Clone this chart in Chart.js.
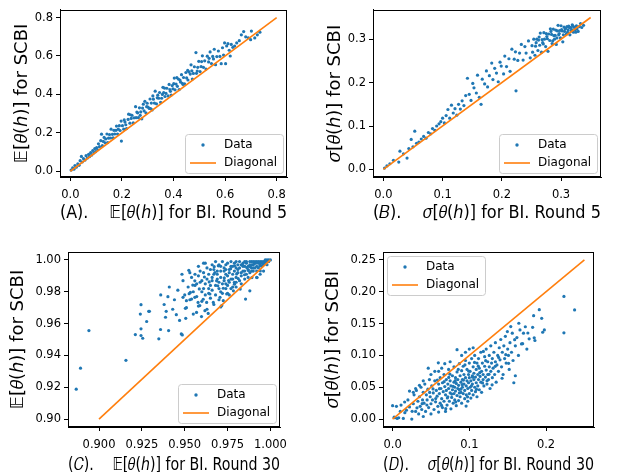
<!DOCTYPE html>
<html lang="en">
<head>
<meta charset="UTF-8">
<title>SCBI vs BI</title>
<script src="https://cdn.jsdelivr.net/npm/chart.js"></script>
<style>
  html, body { margin: 0; padding: 0; background: #fff; overflow: hidden; }
  canvas { position: absolute; left: 0; top: 0; }
</style>
</head>
<body>
<canvas id="chartA" width="621" height="480"></canvas>
<canvas id="chartB" width="621" height="480"></canvas>
<canvas id="chartC" width="621" height="480"></canvas>
<canvas id="chartD" width="621" height="480"></canvas>
<script>
// (A) mean, round 5: [BI, SCBI]
const meanR5 = [
  [0.003,0.006],[0.009,0.017],[0.014,0.011],[0.018,0.030],[0.023,0.021],[0.029,0.038],[0.034,0.031],[0.038,0.055],
  [0.043,0.077],[0.046,0.048],[0.051,0.066],[0.057,0.058],[0.061,0.081],[0.066,0.069],[0.071,0.088],[0.074,0.076],
  [0.079,0.097],[0.083,0.084],[0.087,0.108],[0.091,0.095],[0.095,0.118],[0.098,0.102],
  [0.102,0.123],[0.106,0.112],[0.109,0.143],[0.113,0.128],[0.118,0.159],[0.121,0.193],[0.124,0.133],[0.128,0.155],
  [0.131,0.176],[0.135,0.148],[0.137,0.168],[0.142,0.194],[0.145,0.149],[0.148,0.172],[0.152,0.191],[0.156,0.173],
  [0.158,0.219],[0.163,0.192],[0.166,0.174],[0.169,0.213],[0.172,0.194],[0.177,0.213],[0.179,0.235],[0.183,0.194],
  [0.186,0.219],[0.190,0.237],[0.193,0.212],[0.197,0.261],[0.198,0.157],
  [0.202,0.237],[0.207,0.219],[0.209,0.267],[0.215,0.242],[0.218,0.222],[0.224,0.270],[0.226,0.297],[0.231,0.250],
  [0.236,0.275],[0.239,0.291],[0.244,0.252],[0.247,0.278],[0.253,0.336],[0.255,0.279],[0.261,0.304],[0.264,0.279],
  [0.268,0.330],[0.273,0.309],[0.277,0.273],[0.280,0.329],[0.286,0.314],[0.289,0.364],[0.293,0.304],[0.298,0.354],
  [0.301,0.334],[0.306,0.327],[0.309,0.376],[0.314,0.355],[0.317,0.319],[0.322,0.375],[0.326,0.355],[0.329,0.417],
  [0.334,0.351],[0.337,0.382],[0.343,0.380],[0.346,0.410],[0.350,0.359],[0.354,0.380],[0.359,0.437],[0.362,0.410],
  [0.367,0.389],[0.371,0.405],[0.374,0.432],[0.379,0.392],[0.383,0.452],[0.386,0.425],[0.391,0.397],[0.395,0.446],
  [0.398,0.429],[0.403,0.485],[0.406,0.424],[0.410,0.454],[0.415,0.442],[0.419,0.480],[0.422,0.425],[0.427,0.465],
  [0.431,0.503],[0.434,0.458],[0.439,0.488],[0.443,0.455],[0.448,0.514],[0.451,0.486],[0.456,0.475],[0.460,0.517],
  [0.465,0.506],[0.468,0.554],[0.473,0.480],[0.477,0.509],[0.481,0.544],[0.487,0.618],[0.489,0.510],[0.494,0.541],
  [0.498,0.572],[0.503,0.519],[0.507,0.545],[0.512,0.601],[0.516,0.541],[0.521,0.575],[0.526,0.532],[0.531,0.599],
  [0.536,0.569],[0.542,0.621],[0.547,0.561],[0.552,0.598],[0.558,0.635],[0.563,0.555],[0.568,0.597],[0.574,0.626],
  [0.580,0.598],[0.585,0.560],[0.590,0.643],[0.594,0.605],
  [0.212,0.256],[0.233,0.294],[0.258,0.308],[0.271,0.291],[0.283,0.349],[0.296,0.336],[0.311,0.326],[0.320,0.392],
  [0.339,0.396],[0.357,0.400],[0.365,0.433],[0.388,0.416],[0.401,0.456],[0.413,0.487],[0.425,0.475],[0.437,0.452],
  [0.455,0.525],[0.471,0.523],[0.492,0.522],[0.509,0.571],[0.538,0.588],[0.555,0.585],
  [0.598,0.668],[0.602,0.560],[0.606,0.652],[0.611,0.664],[0.616,0.630],[0.620,0.600],[0.624,0.660],[0.630,0.645],
  [0.637,0.652],[0.645,0.668],[0.655,0.680],[0.663,0.710],[0.672,0.727],[0.680,0.700],[0.690,0.695],[0.699,0.685],
  [0.702,0.730],[0.715,0.694],[0.725,0.710],[0.735,0.724]
];

// (B) std, round 5
const sdR5 = [
  [0.002,0.003],[0.006,0.008],[0.011,0.013],[0.017,0.021],[0.026,0.017],[0.028,0.042],[0.034,0.036],[0.040,0.026],
  [0.043,0.048],[0.047,0.069],[0.050,0.052],[0.053,0.088],[0.056,0.060],[0.060,0.063],[0.064,0.070],[0.068,0.076],
  [0.072,0.072],[0.076,0.085],[0.080,0.082],[0.083,0.094],[0.087,0.090],[0.090,0.100],[0.094,0.105],[0.097,0.110],
  [0.100,0.118],[0.103,0.107],[0.106,0.124],[0.109,0.138],[0.112,0.118],[0.115,0.148],[0.118,0.130],[0.121,0.140],
  [0.124,0.125],[0.127,0.150],[0.130,0.139],[0.133,0.158],[0.136,0.147],[0.139,0.170],
  [0.142,0.210],[0.145,0.173],[0.148,0.159],[0.151,0.198],[0.153,0.188],[0.157,0.176],[0.159,0.217],[0.162,0.166],
  [0.165,0.150],[0.167,0.208],[0.171,0.197],[0.174,0.227],[0.176,0.190],[0.179,0.216],[0.183,0.245],[0.185,0.207],
  [0.188,0.233],[0.191,0.222],[0.194,0.202],[0.197,0.247],[0.199,0.238],[0.203,0.220],[0.205,0.261],[0.208,0.237],
  [0.212,0.255],[0.214,0.226],[0.217,0.277],[0.221,0.254],[0.223,0.271],[0.224,0.181],[0.227,0.251],[0.230,0.268],
  [0.233,0.288],[0.236,0.252],[0.239,0.283],[0.241,0.268],[0.245,0.296],[0.248,0.257],
  [0.251,0.285],[0.252,0.270],[0.254,0.300],[0.256,0.263],[0.257,0.284],[0.259,0.300],[0.261,0.274],[0.262,0.298],
  [0.264,0.286],[0.265,0.314],[0.267,0.270],[0.268,0.299],[0.270,0.289],[0.271,0.315],[0.272,0.300],[0.274,0.283],
  [0.275,0.313],[0.277,0.301],[0.278,0.272],[0.279,0.312],[0.281,0.297],[0.282,0.324],[0.284,0.311],[0.285,0.290],
  [0.287,0.323],[0.288,0.308],[0.289,0.300],[0.291,0.321],[0.292,0.288],[0.294,0.319],[0.295,0.332],[0.296,0.310],
  [0.298,0.320],[0.299,0.303],[0.300,0.331],[0.302,0.319],[0.303,0.294],[0.305,0.328],[0.306,0.318],[0.307,0.324],
  [0.309,0.312],[0.310,0.329],[0.312,0.321],[0.313,0.330],[0.315,0.310],[0.316,0.327],[0.318,0.322],[0.319,0.333],
  [0.321,0.316],[0.322,0.328],[0.324,0.321],[0.326,0.331],[0.327,0.324],[0.329,0.318],[0.331,0.329],[0.333,0.336],
  [0.335,0.327],[0.338,0.332],
  [0.297,0.313],[0.301,0.322],[0.304,0.310],[0.308,0.325],[0.311,0.316],[0.314,0.327],[0.317,0.319],[0.320,0.330],
  [0.323,0.327],[0.325,0.316],[0.283,0.318],[0.276,0.306],[0.269,0.292],[0.263,0.305],[0.258,0.292],[0.286,0.296],
  [0.290,0.309],[0.293,0.303]
];

// (C) mean, round 30
const meanR30 = [
  [0.8867,0.9188],[0.8892,0.932],[0.8941,0.9556],[0.9157,0.9369],[0.9212,0.9531],[0.9245,0.9719],[0.9241,0.966],
  [0.929,0.9677],[0.9278,0.9613],[0.9245,0.9567],[0.9245,0.9525],[0.9255,0.9508],[0.9349,0.9504],[0.9359,0.9563],
  [0.9388,0.964],[0.9392,0.9677],[0.9402,0.9769],[0.9406,0.9556],[0.9451,0.9656],[0.948,0.9535],[0.9486,0.9529],
  [0.9484,0.991],[0.9524,0.9935],[0.9504,0.9696],[0.9506,0.9633],[0.9294,0.9677],
  [0.949,0.9765],[0.951,0.9744],[0.954,0.9754],[0.9533,0.9796],[0.9559,0.9869],[0.9559,0.9765],[0.9578,0.9733],
  [0.9569,0.967],[0.9588,0.9713],[0.9598,0.9644],[0.9618,0.9681],[0.9628,0.9733],[0.9637,0.9664],[0.9647,0.9786],
  [0.9667,0.9733],[0.9676,0.9921],[0.9686,0.9869],[0.9696,0.9963],[0.9706,0.9765],[0.9716,0.9713],[0.9725,0.9744],
  [0.9745,0.9786],[0.971,0.9705],[0.9784,0.9806],[0.979,0.9848],[0.9824,0.9817],[0.9855,0.9754],[0.988,0.9806],
  [0.9892,0.9889],[0.9922,0.9889],[0.9941,0.9931],
  [0.936,0.978],[0.938,0.972],[0.941,0.983],[0.943,0.969],[0.944,0.975],[0.946,0.981],[0.947,0.962],[0.949,0.987],
  [0.950,0.978],[0.951,0.970],[0.952,0.983],[0.953,0.975],[0.954,0.989],[0.955,0.980],[0.955,0.966],
  [0.956,0.984],[0.957,0.977],[0.958,0.990],[0.958,0.971],[0.959,0.986],[0.960,0.980],[0.960,0.974],[0.961,0.992],
  [0.962,0.985],[0.962,0.978],[0.963,0.988],[0.963,0.969],[0.964,0.982],[0.965,0.994],[0.965,0.976],[0.966,0.987],
  [0.966,0.981],[0.967,0.991],[0.967,0.972],[0.968,0.984],[0.968,0.978],[0.969,0.993],[0.969,0.988],[0.970,0.982],
  [0.970,0.975],[0.971,0.996],[0.971,0.989],[0.972,0.985],[0.972,0.979],[0.973,0.993],[0.973,0.987],[0.974,0.982],
  [0.974,0.997],[0.975,0.990],[0.975,0.984],[0.976,0.994],[0.976,0.978],[0.977,0.988],[0.977,0.982],[0.978,0.996],
  [0.978,0.991],[0.979,0.986],[0.979,0.993],[0.980,0.989],[0.980,0.983],[0.981,0.997],[0.981,0.992],[0.982,0.987],
  [0.982,0.995],[0.983,0.990],[0.983,0.985],[0.984,0.998],[0.984,0.993],[0.985,0.988],[0.985,0.996],
  [0.986,0.991],[0.986,0.998],[0.987,0.994],[0.987,0.989],[0.988,0.997],[0.988,0.992],[0.989,0.995],[0.989,0.999],
  [0.990,0.993],[0.990,0.997],[0.991,0.995],[0.991,0.999],[0.992,0.996],[0.992,0.993],[0.993,0.998],[0.993,0.995],
  [0.994,0.999],[0.994,0.997],[0.995,0.996],[0.995,0.999],[0.996,0.998],[0.996,0.997],[0.997,0.999],[0.997,0.998],
  [0.998,0.999],[0.998,1.000],[0.999,0.999],[0.999,1.000],[1.000,1.000],
  [0.958,0.996],[0.961,0.998],[0.963,0.995],[0.966,0.997],[0.968,0.999],[0.970,0.997],[0.972,0.999],[0.975,0.998],
  [0.977,0.999],[0.979,0.998],[0.982,0.999],[0.984,0.996],[0.986,0.999],[0.973,0.995],[0.976,0.992],[0.978,0.988],
  [0.981,0.994],[0.983,0.992],[0.985,0.993],[0.987,0.996],[0.989,0.997],[0.991,0.998],[0.967,0.994],[0.969,0.991],
  [0.971,0.993],[0.974,0.991],[0.964,0.991],[0.962,0.998],[0.959,0.993],[0.956,0.991],[0.953,0.992],[0.957,0.985],
  [0.961,0.982],[0.965,0.984],[0.970,0.986],[0.974,0.985],[0.978,0.983],[0.980,0.986],[0.976,0.986],[0.966,0.989],
  [0.971,0.980],[0.975,0.979],[0.964,0.979],[0.960,0.987],[0.988,0.999],[0.990,0.999],[0.992,0.999],[0.994,0.998],
  [0.996,0.999],[0.997,1.000],[0.995,0.998],[0.993,0.999],[0.985,0.999],[0.983,0.997],[0.980,0.995],[0.977,0.996],
  [0.974,0.994],[0.980,0.999],[0.990,0.995],[0.989,0.993],[0.992,0.989],[0.996,0.993],[0.998,0.997],[0.994,0.991],
  [0.9615,0.9893],[0.9672,0.9958],[0.9731,0.9887],[0.9768,0.9945],[0.9803,0.9912],[0.9837,0.9968],[0.9871,0.9934],
  [0.9904,0.9976],[0.9938,0.9962],[0.9957,0.9985],[0.9693,0.9838],[0.9756,0.9871],[0.9812,0.9883],[0.9849,0.9907],
  [0.9883,0.9958],[0.9917,0.9981],[0.9643,0.9862],[0.9585,0.9818],[0.9547,0.9842],[0.9526,0.9788],[0.9608,0.9753],
  [0.9725,0.9822],[0.9791,0.9963],[0.9862,0.9952],[0.9976,0.9994]
];

// (D) std, round 30
const sdR30 = [
  [0.003,0.002],[0.006,0.001],[0.014,0.001],[0.016,0.010],[0.018,0.014],[0.025,0.000],[0.022,0.019],[0.027,0.024],
  [0.011,0.022],[0.000,0.021],[0.002,0.003],[0.005,0.020],[0.008,0.002],[0.010,0.012],
  [0.020,0.030],[0.028,0.038],[0.030,0.012],[0.031,0.045],[0.033,0.028],[0.034,0.008],[0.035,0.035],[0.036,0.020],
  [0.037,0.050],[0.038,0.015],[0.039,0.030],[0.040,0.042],[0.040,0.004],
  [0.041,0.025],[0.042,0.055],[0.043,0.012],[0.044,0.038],[0.045,0.030],[0.046,0.047],[0.047,0.018],[0.048,0.062],
  [0.049,0.035],[0.050,0.024],[0.050,0.008],[0.051,0.052],[0.052,0.030],[0.053,0.041],[0.054,0.015],[0.055,0.060],
  [0.056,0.027],[0.057,0.045],[0.058,0.036],[0.059,0.020],[0.060,0.055],[0.060,0.011],
  [0.061,0.040],[0.062,0.025],[0.062,0.065],[0.063,0.048],[0.064,0.032],[0.065,0.018],[0.065,0.057],[0.066,0.043],
  [0.067,0.070],[0.067,0.028],[0.068,0.051],[0.069,0.038],[0.069,0.012],[0.070,0.062],[0.070,0.045],[0.071,0.022],
  [0.072,0.055],[0.072,0.035],[0.073,0.078],[0.073,0.048],[0.074,0.028],[0.075,0.060],[0.075,0.041],[0.076,0.016],
  [0.076,0.052],[0.077,0.034],[0.078,0.068],[0.078,0.046],[0.079,0.025],[0.080,0.058],[0.080,0.040],[0.080,0.082],
  [0.081,0.050],[0.081,0.030],[0.082,0.065],[0.082,0.044],[0.083,0.021],[0.083,0.056],[0.084,0.037],[0.084,0.074],
  [0.085,0.048],[0.085,0.062],[0.086,0.029],[0.086,0.053],[0.087,0.041],[0.087,0.087],[0.088,0.068],[0.088,0.035],
  [0.089,0.058],[0.089,0.047],[0.090,0.076],[0.090,0.025],[0.091,0.062],[0.091,0.050],[0.092,0.040],[0.092,0.083],
  [0.093,0.055],[0.093,0.070],[0.094,0.032],[0.094,0.045],[0.095,0.065],[0.095,0.092],[0.096,0.052],[0.096,0.038],
  [0.097,0.078],[0.097,0.060],[0.098,0.028],[0.098,0.048],[0.099,0.070],[0.099,0.057],[0.100,0.040],[0.100,0.088],
  [0.100,0.065],
  [0.101,0.050],[0.101,0.075],[0.102,0.033],[0.102,0.060],[0.103,0.095],[0.103,0.045],[0.104,0.068],[0.104,0.055],
  [0.105,0.082],[0.105,0.038],[0.106,0.062],[0.106,0.072],[0.107,0.050],[0.107,0.100],[0.108,0.043],[0.108,0.066],
  [0.109,0.078],[0.109,0.057],[0.110,0.088],[0.110,0.035],[0.111,0.070],[0.111,0.052],[0.112,0.062],[0.112,0.095],
  [0.113,0.046],[0.113,0.080],[0.114,0.067],[0.115,0.058],[0.115,0.105],[0.116,0.075],[0.116,0.042],[0.117,0.088],
  [0.118,0.062],[0.118,0.070],[0.119,0.052],[0.120,0.083],[0.120,0.098],
  [0.121,0.066],[0.122,0.110],[0.122,0.077],[0.123,0.055],[0.124,0.090],[0.124,0.070],[0.125,0.062],[0.126,0.100],
  [0.126,0.082],[0.127,0.048],[0.128,0.075],[0.128,0.115],[0.129,0.088],[0.130,0.065],[0.130,0.095],[0.131,0.080],
  [0.132,0.105],[0.133,0.070],[0.134,0.120],[0.134,0.090],[0.135,0.058],[0.136,0.085],[0.137,0.100],[0.138,0.075],
  [0.139,0.112],[0.140,0.093],
  [0.141,0.125],[0.142,0.082],[0.143,0.105],[0.144,0.070],[0.145,0.115],[0.146,0.095],[0.147,0.130],[0.148,0.088],
  [0.150,0.110],[0.151,0.100],[0.152,0.078],[0.153,0.120],[0.155,0.105],[0.156,0.135],[0.157,0.092],[0.158,0.057],
  [0.160,0.068],[0.160,0.115],[0.1496,0.1375],[0.154,0.1453],[0.1645,0.1505],
  [0.162,0.128],[0.164,0.100],[0.166,0.140],[0.168,0.118],[0.1706,0.1349],[0.173,0.145],[0.175,0.110],[0.178,0.126],
  [0.1825,0.1442],[0.1838,0.1625],[0.1846,0.1276],[0.1855,0.1234],[0.1912,0.1719],[0.1943,0.1583],[0.1956,0.1364],
  [0.1978,0.1401],[0.2233,0.1927],[0.2372,0.1714],[0.2233,0.1355],
  [0.0465,0.080],[0.022,0.044],[0.035,0.053],[0.030,0.048],[0.027,0.042],[0.040,0.060],[0.050,0.070],[0.055,0.075],
  [0.068,0.087],[0.084,0.109],[0.060,0.075],[0.075,0.090],[0.064,0.080],[0.090,0.100],[0.095,0.105],[0.100,0.110],
  [0.105,0.112],
  [0.0527,0.0473],[0.0583,0.0612],[0.0638,0.0214],[0.0672,0.0587],[0.0714,0.0331],[0.0747,0.0705],[0.0789,0.0512],
  [0.0823,0.0268],[0.0856,0.0779],[0.0891,0.0418],[0.0924,0.0613],[0.0958,0.0204],[0.0993,0.0752],[0.1027,0.0521],
  [0.1068,0.0889],[0.1094,0.0467],[0.1136,0.0729],[0.1172,0.0568],[0.1213,0.0918],[0.1256,0.0702],[0.1297,0.0537],
  [0.1338,0.0829],[0.1382,0.0968],[0.1427,0.0641],[0.0447,0.0221],[0.0483,0.0419],[0.0562,0.0322],[0.0611,0.0478],
  [0.0693,0.0163],[0.0732,0.0654],[0.0771,0.0392],[0.0817,0.0603],[0.0868,0.0463],[0.0907,0.0541],[0.0943,0.0851],
  [0.0977,0.0349],[0.1042,0.0658],[0.1117,0.0831],[0.1183,0.1062],[0.1231,0.0602],[0.0385,0.0241],[0.0318,0.0177],
  [0.0255,0.0122],[0.0157,0.0268],[0.0596,0.0883],[0.1475,0.1012],[0.1512,0.0875],[0.1591,0.1247],[0.1695,0.1184],
  [0.1763,0.1352]
];

// diagonal end points
const diagR5Mean = [0, 0.8];
const diagR5Sd = [0, 0.35];
const diagR30Mean = [0.9, 1.0];
const diagR30Sd = [0, 0.25];

// tick labels
const ticksR5Mean = [0, 0.2, 0.4, 0.6, 0.8];
const ticksR5Sd = [0, 0.1, 0.2, 0.3];
const ticksR30MeanX = [0.9, 0.925, 0.95, 0.975, 1.0];
const ticksR30MeanY = [0.90, 0.92, 0.94, 0.96, 0.98, 1.00];
const ticksR30SdX = [0, 0.1, 0.2];
const ticksR30SdY = [0, 0.05, 0.10, 0.15, 0.20, 0.25];

const FONT = "'DejaVu Sans', sans-serif";
const BLUE = '#1f77b4';
const ORANGE = '#ff7f0e';
const CANVAS_W = 621, CANVAS_H = 480;
const TITLE_SIZE = 18;
const GAP = '\u2002\u2002\u00A0';

// box around the axes + matplotlib-like legend inside it
const framePlugin = {
  id: 'frame',
  afterDraw(chart, args, opts) {
    const ctx = chart.ctx, a = chart.chartArea;
    ctx.save();
    ctx.strokeStyle = '#000';
    ctx.lineWidth = 1;
    ctx.strokeRect(Math.round(a.left) + 0.5, Math.round(a.top) + 0.5,
      Math.round(a.right - a.left) - 1, Math.round(a.bottom - a.top) - 1);

    const w = 98, h = 39, inset = 4;
    const x0 = opts.corner === 'tl' ? a.left + inset : a.right - inset - w;
    const y0 = opts.corner === 'tl' ? a.top + inset : a.bottom - inset - h;
    ctx.beginPath();
    ctx.roundRect(x0 + 0.5, y0 + 0.5, w, h, 3);
    ctx.fillStyle = 'rgba(255,255,255,0.8)';
    ctx.fill();
    ctx.strokeStyle = '#cccccc';
    ctx.stroke();

    ctx.font = '12px ' + FONT;
    ctx.textBaseline = 'middle';
    chart.data.datasets.forEach((ds, i) => {
      const cy = y0 + 11 + i * 18;
      if (ds.showLine) {
        ctx.beginPath();
        ctx.moveTo(x0 + 5, cy);
        ctx.lineTo(x0 + 31, cy);
        ctx.strokeStyle = ds.borderColor;
        ctx.lineWidth = 1.6;
        ctx.stroke();
      } else {
        ctx.beginPath();
        ctx.arc(x0 + 18, cy, 1.7, 0, Math.PI * 2);
        ctx.fillStyle = ds.backgroundColor;
        ctx.fill();
      }
      ctx.fillStyle = '#000';
      ctx.fillText(ds.label, x0 + 39, cy);
    });
    ctx.restore();
  }
};

function makePanel(id, p) {
  const yWidth = p.yTitleOffset + TITLE_SIZE / 2;
  const xHeight = p.xTitleOffset + TITLE_SIZE / 2;
  const axis = (min, max, ticks, dec, title, pad) => ({
    type: 'linear',
    min: min,
    max: max,
    afterBuildTicks: s => { s.ticks = ticks.map(v => ({ value: v })); },
    grid: { display: true, drawOnChartArea: false, drawTicks: true, tickLength: 4, color: '#000' },
    border: { display: true, color: '#000', width: 1 },
    ticks: {
      color: '#000', font: { family: FONT, size: 11.5 }, padding: pad,
      autoSkip: false, maxRotation: 0,
      callback: v => Number(v).toFixed(dec)
    },
    title: {
      display: true, text: title, color: '#000',
      font: { family: FONT, size: TITLE_SIZE, lineHeight: 1 },
      padding: { top: 0, bottom: 0 }
    }
  });

  return new Chart(document.getElementById(id), {
    type: 'scatter',
    data: {
      datasets: [
        {
          label: 'Data',
          data: p.points.map(d => ({ x: d[0], y: d[1] })),
          backgroundColor: BLUE,
          borderColor: BLUE,
          pointRadius: 1.6,
          pointBorderWidth: 0,
          order: 1
        },
        {
          label: 'Diagonal',
          data: p.diag.map(v => ({ x: v, y: v })),
          showLine: true,
          borderColor: ORANGE,
          backgroundColor: ORANGE,
          borderWidth: 1.6,
          pointRadius: 0,
          order: 0
        }
      ]
    },
    options: {
      responsive: false,
      animation: false,
      layout: {
        padding: {
          left: p.area[0] - yWidth,
          top: p.area[1],
          right: CANVAS_W - p.area[2],
          bottom: CANVAS_H - (p.area[3] + xHeight)
        }
      },
      plugins: {
        legend: { display: false },
        tooltip: { enabled: false },
        frame: { corner: p.legend }
      },
      scales: {
        x: Object.assign(axis(p.x[0], p.x[1], p.xTicks, p.xDec, p.xTitle, 7), {
          afterFit: s => { s.height = xHeight; }
        }),
        y: Object.assign(axis(p.y[0], p.y[1], p.yTicks, p.yDec, p.yTitle, 3), {
          afterFit: s => { s.width = yWidth; }
        })
      }
    },
    plugins: [framePlugin]
  });
}

makePanel('chartA', {
  points: meanR5, diag: diagR5Mean, area: [60, 3, 287, 177],
  x: [-0.04, 0.84], y: [-0.03, 0.84],
  xTicks: ticksR5Mean, yTicks: ticksR5Mean, xDec: 1, yDec: 1,
  xTitle: '(A).' + GAP + '\u{1D53C}[\u{1D703}(\u210E)] for BI. Round 5',
  yTitle: '\u{1D53C}[\u{1D703}(\u210E)] for SCBI',
  xTitleOffset: 36, yTitleOffset: 38, legend: 'br'
});

makePanel('chartB', {
  points: sdR5, diag: diagR5Sd, area: [373, 3, 601, 177],
  x: [-0.0175, 0.3675], y: [-0.0175, 0.3675],
  xTicks: ticksR5Sd, yTicks: ticksR5Sd, xDec: 1, yDec: 1,
  xTitle: '(\u{1D435}).' + GAP + '\u{1D70E}[\u{1D703}(\u210E)] for BI. Round 5',
  yTitle: '\u{1D70E}[\u{1D703}(\u210E)] for SCBI',
  xTitleOffset: 36, yTitleOffset: 38, legend: 'br'
});

makePanel('chartC', {
  points: meanR30, diag: diagR30Mean, area: [68, 252, 280, 427],
  x: [0.8819, 1.0056], y: [0.895, 1.005],
  xTicks: ticksR30MeanX, yTicks: ticksR30MeanY, xDec: 3, yDec: 2,
  xTitle: '(\u{1D436}).' + GAP + '\u{1D53C}[\u{1D703}(\u210E)] for BI. Round 30',
  yTitle: '\u{1D53C}[\u{1D703}(\u210E)] for SCBI',
  xTitleOffset: 38, yTitleOffset: 50, legend: 'br'
});

makePanel('chartD', {
  points: sdR30, diag: diagR30Sd, area: [383, 252, 594, 427],
  x: [-0.0125, 0.2625], y: [-0.0125, 0.2625],
  xTicks: ticksR30SdX, yTicks: ticksR30SdY, xDec: 1, yDec: 2,
  xTitle: '(\u{1D437}).' + GAP + '\u{1D70E}[\u{1D703}(\u210E)] for BI. Round 30',
  yTitle: '\u{1D70E}[\u{1D703}(\u210E)] for SCBI',
  xTitleOffset: 38, yTitleOffset: 50, legend: 'tl'
});
</script>
</body>
</html>
